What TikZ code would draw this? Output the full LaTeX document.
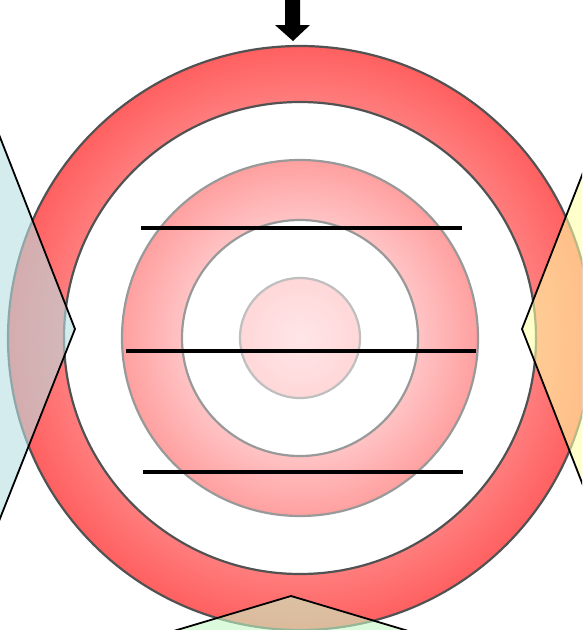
\documentclass[tikz,border=0pt]{standalone}
\definecolor{c0}{RGB}{255,230,232}
\definecolor{c1}{RGB}{255,215,216}
\definecolor{c2}{RGB}{255,195,196}
\definecolor{c3}{RGB}{255,160,160}
\definecolor{c4}{RGB}{255,125,125}
\definecolor{c5}{RGB}{255,96,96}
\definecolor{blueov}{RGB}{184,224,227}
\definecolor{yellowov}{RGB}{255,255,165}
\definecolor{greenov}{RGB}{197,247,197}
\pgfdeclareradialshading{target}{\pgfpoint{0bp}{0bp}}{color(0bp)=(c0); color(5.1bp)=(c1); color(10.1bp)=(c2); color(15.2bp)=(c3); color(20.2bp)=(c4); color(25bp)=(c5); color(50bp)=(c5)}
\tikzset{
  darkring/.style={draw=black!68, line width=2.2pt},
  midring/.style={draw=black!40, line width=2.2pt},
  innerring/.style={draw=black!25, line width=2.2pt},
  edge/.style={draw=black, line width=1.8pt},
  bar/.style={draw=black, line width=3.8pt},
}
\begin{document}
\begin{tikzpicture}[x=1pt,y=-1pt]
\useasboundingbox (0,0) rectangle (582,630);
\clip (0,0) rectangle (582,630);
\coordinate (C) at (300,338);
% target
\fill[shading=target] (C) circle (292pt);
\fill[white, even odd rule] (C) circle (236pt) circle (178pt);
\fill[white, even odd rule] (C) circle (118pt) circle (60pt);
\draw[darkring] (C) circle (292pt);
\draw[darkring] (C) circle (236pt);
\draw[midring] (C) circle (178pt);
\draw[midring] (C) circle (118pt);
\draw[innerring] (C) circle (60pt);
% bars
\coordinate (a1) at (141,228); \coordinate (a2) at (462,228);
\coordinate (b1) at (126,351); \coordinate (b2) at (476,351);
\coordinate (d1) at (143,472); \coordinate (d2) at (463,472);
\draw[bar] (a1) -- (a2);
\draw[bar] (b1) -- (b2);
\draw[bar] (d1) -- (d2);
% side shapes
\coordinate (L1) at (-20,86); \coordinate (L2) at (75,329); \coordinate (L3) at (-20,569);
\fill[blueov, fill opacity=0.6] (L1) -- (L2) -- (L3) -- cycle;
\draw[edge] (L1) -- (L2) -- (L3);
\coordinate (R1) at (602,124); \coordinate (R2) at (522,329); \coordinate (R3) at (602,534);
\fill[yellowov, fill opacity=0.6] (R1) -- (R2) -- (R3) -- cycle;
\draw[edge] (R1) -- (R2) -- (R3);
\coordinate (B1) at (110,650); \coordinate (B2) at (291,596); \coordinate (B3) at (472,650);
\fill[greenov, fill opacity=0.6] (B1) -- (B2) -- (B3) -- cycle;
\draw[edge] (B1) -- (B2) -- (B3);
% arrow
\fill[black] (285,0) -- (300,0) -- (300,25) -- (310,25) -- (293,41) -- (275,25) -- (285,25) -- cycle;
\end{tikzpicture}
\end{document}
